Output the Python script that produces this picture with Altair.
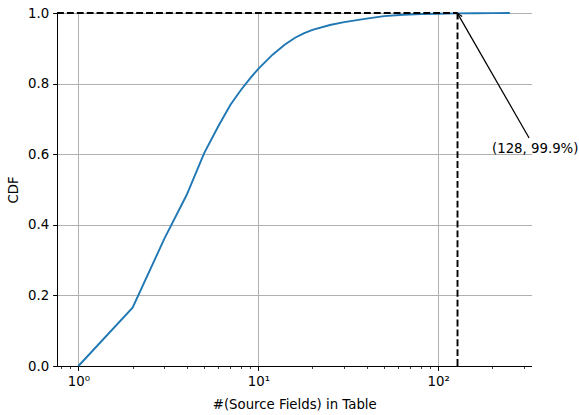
import altair as alt
import pandas as pd

# CDF of number of source fields per table
fields = [1, 2, 3, 4, 5, 6, 7, 8, 9, 10, 12, 14, 16, 18, 20, 25, 30, 40, 50, 64, 80, 100, 128, 160, 200, 250]
cdf = [0.0, 0.165, 0.36, 0.485, 0.603, 0.68, 0.74, 0.782, 0.815, 0.842, 0.882, 0.91, 0.93, 0.943, 0.952,
       0.966, 0.974, 0.984, 0.991, 0.995, 0.997, 0.998, 0.999, 0.9994, 0.9997, 1.0]

x_domain = [0.76, 330]
major_x = [1, 10, 100]
minor_x = [0.8, 0.9, 2, 3, 4, 5, 6, 7, 8, 9, 20, 30, 40, 50, 60, 70, 80, 90, 200, 300]
y_ticks = [0.0, 0.2, 0.4, 0.6, 0.8, 1.0]

mark_x = 128
mark_y = 0.999
label_text = "(128, 99.9%)"
label_x = 346
label_y = 0.615
arrow_tail_x = 320
arrow_tail_y = 0.646

FONT = "DejaVu Sans"
FS = 13.3

df = pd.DataFrame({"x": fields, "y": cdf})
xs = alt.Scale(type="log", domain=x_domain, nice=False)
ys = alt.Scale(domain=[0, 1], nice=False)

line = alt.Chart(df).mark_line(color="#1f77b4", strokeWidth=1.9).encode(
    x=alt.X("x:Q", scale=xs, title="#(Source Fields) in Table",
            axis=alt.Axis(values=major_x, orient="bottom",
                          labelExpr="datum.value == 1 ? '10⁰' : datum.value == 10 ? '10¹' : '10²'",
                          grid=True, gridColor="#b0b0b0", gridWidth=1,
                          tickSize=4.4, tickWidth=1, tickColor="black",
                          domainColor="black", domainWidth=1,
                          labelPadding=4, titlePadding=10)),
    y=alt.Y("y:Q", scale=ys, title="CDF",
            axis=alt.Axis(values=y_ticks, format=".1f", grid=True, gridColor="#b0b0b0", gridWidth=1,
                          tickSize=4.4, tickWidth=1, tickColor="black",
                          domainColor="black", domainWidth=1,
                          labelPadding=4, titlePadding=7)),
)

minor = alt.Chart(pd.DataFrame({"x": minor_x})).mark_point(opacity=0).encode(
    x=alt.X("x:Q", scale=xs,
            axis=alt.Axis(values=minor_x, orient="bottom", labels=False, title=None, grid=False,
                          domain=False, tickSize=2.5, tickWidth=0.75, tickColor="black")),
    y=alt.value(0),
)

hline_df = pd.DataFrame({"x": [x_domain[0]], "x2": [mark_x], "y": [1.0]})
hline = alt.Chart(hline_df).mark_rule(color="black", strokeWidth=1.9, strokeDash=[6.9, 3.0]).encode(
    x=alt.X("x:Q", scale=xs, axis=None), x2="x2:Q", y=alt.Y("y:Q", scale=ys)
)

vline_df = pd.DataFrame({"x": [mark_x], "y": [0.0], "y2": [1.0]})
vline = alt.Chart(vline_df).mark_rule(color="black", strokeWidth=1.9, strokeDash=[6.9, 3.0]).encode(
    x=alt.X("x:Q", scale=xs, axis=None), y=alt.Y("y:Q", scale=ys), y2="y2:Q"
)

arrow_df = pd.DataFrame({"x": [arrow_tail_x], "y": [arrow_tail_y], "x2": [mark_x], "y2": [mark_y]})
arrow = alt.Chart(arrow_df).mark_rule(color="black", strokeWidth=1.25).encode(
    x=alt.X("x:Q", scale=xs, axis=None), y=alt.Y("y:Q", scale=ys), x2="x2:Q", y2="y2:Q"
)

head_df = pd.DataFrame({"x": [mark_x], "y": [mark_y]})
head = alt.Chart(head_df).mark_point(
    shape="M-0.5,1L0,0L0.5,1", filled=False, stroke="black", strokeWidth=1.25,
    size=100, angle=330, opacity=1
).encode(x=alt.X("x:Q", scale=xs, axis=None), y=alt.Y("y:Q", scale=ys))

label_df = pd.DataFrame({"x": [label_x], "y": [label_y], "t": [label_text]})
label = alt.Chart(label_df).mark_text(
    font=FONT, fontSize=FS, color="black", align="center", baseline="middle"
).encode(x=alt.X("x:Q", scale=xs, axis=None), y=alt.Y("y:Q", scale=ys), text="t:N")

chart = alt.layer(line, minor, hline, vline, arrow, head, label).resolve_axis(x="independent").properties(
    width=474.5, height=353,
    autosize=alt.AutoSizeParams(type="none"),
    padding={"left": 57, "top": 13, "right": 47.5, "bottom": 49},
).configure_view(stroke=None).configure_axis(
    labelFont=FONT, titleFont=FONT, labelFontSize=FS, titleFontSize=FS,
    labelColor="black", titleColor="black", titleFontWeight="normal",
)

chart.save("out.html", embed_options={"renderer": "svg", "actions": False})
